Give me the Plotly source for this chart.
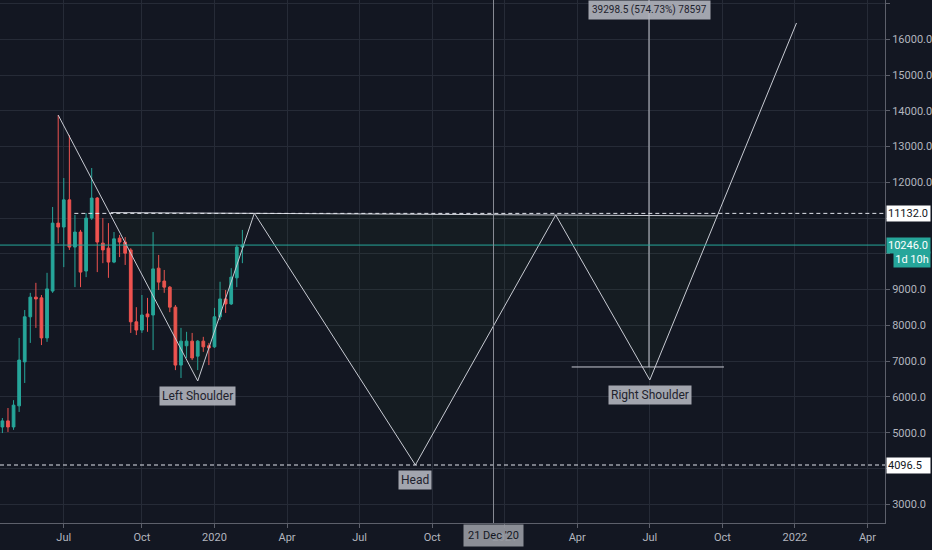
import plotly.graph_objects as go

# weekly BTC candles
dates = ["2019-04-15", "2019-04-22", "2019-04-29", "2019-05-06", "2019-05-13", "2019-05-20",
         "2019-05-27", "2019-06-03", "2019-06-10", "2019-06-17", "2019-06-24", "2019-07-01",
         "2019-07-08", "2019-07-15", "2019-07-22", "2019-07-29", "2019-08-05", "2019-08-12",
         "2019-08-19", "2019-08-26", "2019-09-02", "2019-09-09", "2019-09-16", "2019-09-23",
         "2019-09-30", "2019-10-07", "2019-10-14", "2019-10-21", "2019-10-28", "2019-11-04",
         "2019-11-11", "2019-11-18", "2019-11-25", "2019-12-02", "2019-12-09", "2019-12-16",
         "2019-12-23", "2019-12-30", "2020-01-06", "2020-01-13", "2020-01-20", "2020-01-27",
         "2020-02-03", "2020-02-10"]
opens = [5160, 5330, 5160, 5750, 6980, 8240, 8790, 8770, 7650, 8960, 10860, 10750,
         11510, 10190, 10610, 9520, 11000, 11560, 10300, 10160, 9770, 10440, 10330, 10110,
         8100, 7870, 8320, 8290, 9600, 9240, 9070, 8510, 6890, 7430, 7560, 7140,
         7560, 7430, 7400, 8240, 8740, 8600, 9330, 10190]
highs = [5410, 5690, 5910, 7650, 8430, 8910, 9190, 8850, 9470, 11310, 13880, 12120,
         13320, 11090, 10670, 11140, 12400, 11590, 11000, 10860, 10610, 10530, 10470, 10160,
         8510, 8850, 8770, 10610, 9970, 9550, 9100, 8570, 7930, 7820, 7790, 7590,
         7680, 7510, 8490, 9220, 8990, 9600, 10250, 10670]
lows = [4990, 5020, 5080, 5580, 6390, 7510, 7930, 7450, 7540, 8910, 10300, 9630,
        10110, 9070, 9070, 9350, 10950, 9490, 9740, 9330, 9740, 9910, 9690, 7790,
        7730, 7790, 7820, 7310, 8990, 8910, 8370, 6750, 6530, 7090, 7030, 6750,
        7260, 6890, 7370, 8150, 8350, 8570, 9070, 9740]
closes = [5330, 5160, 5770, 7030, 8240, 8790, 8740, 7650, 9020, 10860, 10750, 11510,
          10190, 10610, 9490, 11000, 11560, 10330, 10110, 9770, 10420, 10330, 10020, 8100,
          7870, 8290, 8240, 9580, 9210, 9070, 8510, 6890, 7560, 7560, 7090, 7560,
          7400, 7370, 8240, 8740, 8600, 9350, 10190, 10246]

# inverse head & shoulders drawing
hs_dates = ["2019-06-24", "2019-12-16", "2020-02-25", "2020-09-14", "2021-03-09", "2021-07-05", "2022-01-05"]
hs_prices = [13880, 6445, 11134, 4096.5, 11087, 6473, 16455]
neck_dates = ["2019-08-29", "2021-09-28"]
neck_prices = [11155, 11061]

last_price = 10246
neck_level = 11132
head_level = 4096.5
measure_base = 6837.7
measure_top = 46136.2

xtick_vals = ["2019-07-01", "2019-10-07", "2020-01-06", "2020-04-06", "2020-07-06", "2020-10-05",
              "2021-01-04", "2021-04-05", "2021-07-05", "2021-10-04", "2022-01-03", "2022-04-04"]
xtick_text = ["Jul", "Oct", "2020", "Apr", "Jul", "Oct", "2021", "Apr", "Jul", "Oct", "2022", "Apr"]
ytick_vals = list(range(3000, 18000, 1000))
ytick_text = ["" if v in (4000, 10000, 11000) else "%d.0" % v for v in ytick_vals]

BG = "#131722"
UP = "#26a69a"
DOWN = "#ef5350"
LINE = "#c8cbd3"
TXT = "#b2b5be"
FONT = "Liberation Sans Narrow, Roboto, sans-serif"

fig = go.Figure()

# pattern fill
fill_x = [neck_dates[0]] + hs_dates[1:6] + [neck_dates[1], neck_dates[0]]
fill_y = [neck_prices[0]] + hs_prices[1:6] + [neck_prices[1], neck_prices[0]]
fig.add_trace(go.Scatter(x=fill_x, y=fill_y, fill="toself", fillcolor="rgba(60,140,40,0.045)",
                         mode="none", hoverinfo="skip", showlegend=False))

fig.add_trace(go.Candlestick(
    x=dates, open=opens, high=highs, low=lows, close=closes,
    increasing=dict(line=dict(color=UP, width=1), fillcolor=UP),
    decreasing=dict(line=dict(color=DOWN, width=1), fillcolor=DOWN),
    whiskerwidth=0, hoverinfo="skip", showlegend=False))

# pattern lines
fig.add_trace(go.Scatter(x=hs_dates, y=hs_prices, mode="lines", line=dict(color=LINE, width=1),
                         hoverinfo="skip", showlegend=False))
fig.add_trace(go.Scatter(x=neck_dates, y=neck_prices, mode="lines", line=dict(color=LINE, width=1),
                         hoverinfo="skip", showlegend=False))

# measure tool
fig.add_trace(go.Scatter(x=["2021-07-04", "2021-07-04"], y=[measure_base, measure_top], mode="lines",
                         line=dict(color=LINE, width=1), hoverinfo="skip", showlegend=False))
fig.add_trace(go.Scatter(x=["2021-03-29", "2021-10-06"], y=[measure_base, measure_base], mode="lines",
                         line=dict(color=LINE, width=1), hoverinfo="skip", showlegend=False))

# horizontal levels
fig.add_shape(type="line", xref="paper", yref="y", x0=0.084, x1=1,
              y0=neck_level, y1=neck_level, line=dict(color="#e0e3eb", width=1, dash="4px,3px"))
fig.add_shape(type="line", xref="paper", yref="y", x0=0, x1=1,
              y0=head_level, y1=head_level, line=dict(color="#e0e3eb", width=1, dash="4px,3px"))
fig.add_shape(type="line", xref="paper", yref="y", x0=0, x1=1,
              y0=last_price, y1=last_price, line=dict(color=UP, width=1))
# crosshair
fig.add_shape(type="line", xref="x", yref="paper", x0="2020-12-21", x1="2020-12-21",
              y0=0, y1=1, line=dict(color="#8a8d96", width=1))

lbl = dict(showarrow=False, font=dict(family=FONT, size=12, color="#1e222d"),
           bgcolor="rgba(178,181,190,0.9)", borderpad=2, yanchor="top", yshift=-5)
fig.add_annotation(x=hs_dates[1], y=hs_prices[1], text="Left Shoulder", **lbl)
fig.add_annotation(x=hs_dates[3], y=hs_prices[3], text="Head", **lbl)
fig.add_annotation(x=hs_dates[5], y=hs_prices[5], text="Right Shoulder", **lbl)

fig.add_annotation(x="2021-07-04", y=1, xref="x", yref="paper", yanchor="top", showarrow=False,
                   text="39298.5 (574.73%) 78597", font=dict(family=FONT, size=10, color="#1e222d"),
                   bgcolor="rgba(178,181,190,0.9)", borderpad=3)
fig.add_annotation(x="2020-12-21", y=0, xref="x", yref="paper", yanchor="top", yshift=-1,
                   showarrow=False, text="21 Dec '20", font=dict(family=FONT, size=11, color="#131722"),
                   bgcolor="rgba(150,153,161,0.92)", borderpad=4)

# price scale labels
for val, txt, bg, fg in [(neck_level, "11132.0", "#ffffff", "#131722"),
                         (head_level, "4096.5", "#ffffff", "#131722"),
                         (last_price, "10246.0", UP, "#ffffff")]:
    fig.add_annotation(x=1, y=val, xref="paper", yref="y", xanchor="left", yanchor="middle",
                       showarrow=False, text=txt, font=dict(family=FONT, size=11, color=fg),
                       bgcolor=bg, borderpad=1, width=41, align="left", xshift=1)
fig.add_annotation(x=1, y=last_price, xref="paper", yref="y", xanchor="left", yanchor="middle",
                   showarrow=False, text="1d 10h", font=dict(family=FONT, size=11, color="#ffffff"),
                   bgcolor=UP, borderpad=1, width=34, align="center", xshift=8, yshift=-14)

fig.update_layout(
    width=932, height=550,
    margin=dict(l=0, r=43, t=0, b=27),
    paper_bgcolor=BG, plot_bgcolor=BG,
    font=dict(family=FONT, size=11, color=TXT),
    showlegend=False,
    xaxis=dict(type="date", range=["2019-04-12", "2022-04-26"], rangeslider=dict(visible=False),
               tickvals=xtick_vals, ticktext=xtick_text, showgrid=True, gridcolor="#262b37",
               showline=True, linecolor="#5d606b", ticks="outside", ticklen=4, tickcolor="#5d606b",
               tickfont=dict(size=11, color=TXT), zeroline=False, fixedrange=True),
    yaxis=dict(side="right", range=[2475, 17098], tickvals=ytick_vals, ticktext=ytick_text,
               showgrid=True, gridcolor="#262b37", showline=True, linecolor="#5d606b",
               ticks="outside", ticklen=4, tickcolor="#5d606b", tickfont=dict(size=11, color=TXT),
               zeroline=False, fixedrange=True),
)

fig.write_html("out.html", config={"displayModeBar": False},
               post_script="document.body.style.margin='0';document.body.style.background='#131722';")
